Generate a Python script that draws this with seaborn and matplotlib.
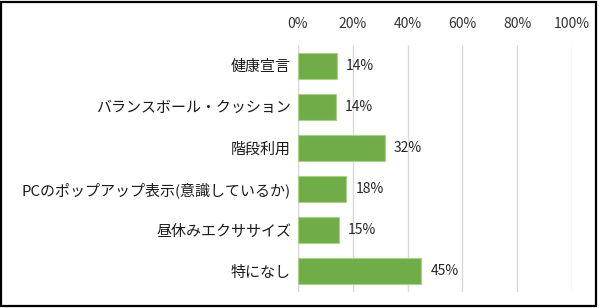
import matplotlib
matplotlib.use("Agg")
import matplotlib.pyplot as plt
import seaborn as sns
import pandas as pd
from matplotlib.patches import Rectangle

categories = ["健康宣言", "バランスボール・クッション", "階段利用",
              "PCのポップアップ表示(意識しているか)", "昼休みエクササイズ", "特になし"]
values = [14.1, 13.8, 31.6, 17.6, 15.0, 45.0]
xticks = [0, 20, 40, 60, 80, 100]
xtick_labels = ["0%", "20%", "40%", "60%", "80%", "100%"]

sns.set_theme(style="white")
plt.rcParams['font.family'] = ['Noto Sans CJK JP', 'DejaVu Sans']

df = pd.DataFrame({"cat": categories, "val": values})

fig = plt.figure(figsize=(6.0, 3.08), dpi=100)
ax = fig.add_axes([298/600, 1 - 292/308, (572-298)/600, (292-45)/308])

sns.barplot(data=df, x="val", y="cat", orient="h", color="#70AD47",
            width=0.63, edgecolor="#A9D18E", linewidth=0.8, saturation=1, ax=ax)

ax.set_xlim(0, 100)
ax.set_ylim(5.5, -0.5)
ax.set_xticks(xticks)
ax.set_xticklabels(xtick_labels)
ax.xaxis.tick_top()
ax.tick_params(axis='x', length=0, pad=10, labelsize=10, colors="#333333")
ax.tick_params(axis='y', length=0, pad=5, labelsize=10.8, colors="#1a1a1a")
ax.set_xlabel("")
ax.set_ylabel("")
ax.grid(axis='x', color="#D9D9D9", linewidth=1)
ax.set_axisbelow(True)
for s in ax.spines.values():
    s.set_visible(False)
ax.axvline(0, color="#D9D9D9", linewidth=1, zorder=0)

for i, v in enumerate(values):
    ax.text(v + 3.3, i, f"{v:.0f}%", va="center", ha="left", fontsize=10, color="#262626")

fig.patches.append(Rectangle((0.002, 0.008), 0.992, 0.985, transform=fig.transFigure,
                             fill=False, edgecolor="black", linewidth=1.6))

fig.savefig("out.png", dpi=100)
